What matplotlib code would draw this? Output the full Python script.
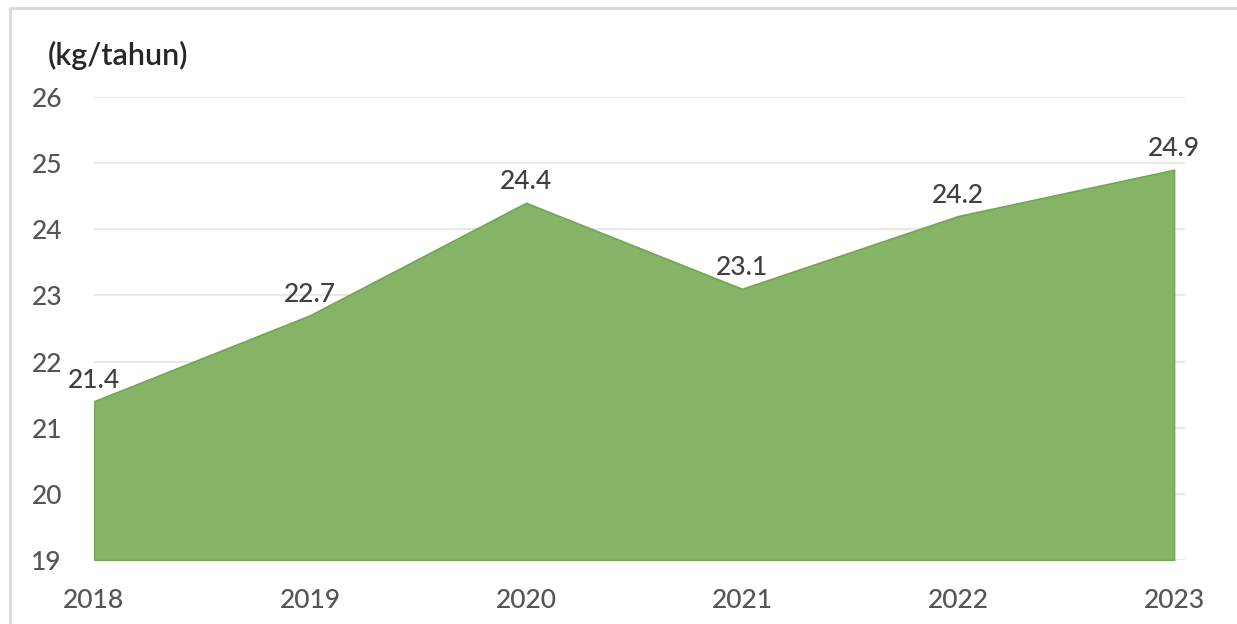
import matplotlib
matplotlib.use("Agg")
import matplotlib.pyplot as plt
from matplotlib.patches import Rectangle

years = ["2018", "2019", "2020", "2021", "2022", "2023"]
values = [21.4, 22.7, 24.4, 23.1, 24.2, 24.9]
yticks = [19, 20, 21, 22, 23, 24, 25, 26]
unit_label = "(kg/tahun)"

plt.rcParams['font.family'] = ['Lato', 'DejaVu Sans']

fig = plt.figure(figsize=(12.37, 6.24), dpi=100)
fig.patch.set_facecolor("white")
fig.add_artist(Rectangle((10/1237, -0.01), 1.05, (624-8)/624 + 0.01, transform=fig.transFigure,
                         fill=False, edgecolor="#d9d9d9", linewidth=2))

ax = fig.add_axes([94/1237, (624-560)/624, (1185-94)/1237, (560-97)/624])
x = list(range(len(years)))
ax.fill_between(x, values, 19, color="#85b466", edgecolor="#74a555", linewidth=1.2, zorder=2)

ax.set_ylim(19, 26)
ax.set_xlim(0, 5 * (1091/1080))
ax.set_yticks(yticks)
ax.set_yticklabels([str(t) for t in yticks])
ax.set_xticks(x)
ax.set_xticklabels(years)
ax.grid(axis='y', color="#e6e6e6", linewidth=1.3, zorder=0)
ax.set_axisbelow(True)
for s in ax.spines.values():
    s.set_visible(False)
ax.tick_params(axis='both', length=0, labelcolor="#555555")
ax.tick_params(axis='y', pad=23, labelsize=19)
ax.tick_params(axis='x', pad=20, labelsize=19)
for lbl in ax.get_xticklabels() + ax.get_yticklabels():
    lbl.set_fontweight("medium")

for xi, v in zip(x, values):
    ax.annotate(f"{v:.1f}", (xi, v), xytext=(0, 15), textcoords="offset points",
                ha="center", va="center", fontsize=19, color="#404040",
                fontweight="medium", zorder=5)

fig.text(48/1237, 1 - 55/624, unit_label, fontsize=22, color="#262626",
         fontweight="semibold", ha="left", va="center")

fig.savefig("out.png", dpi=100, facecolor="white")
